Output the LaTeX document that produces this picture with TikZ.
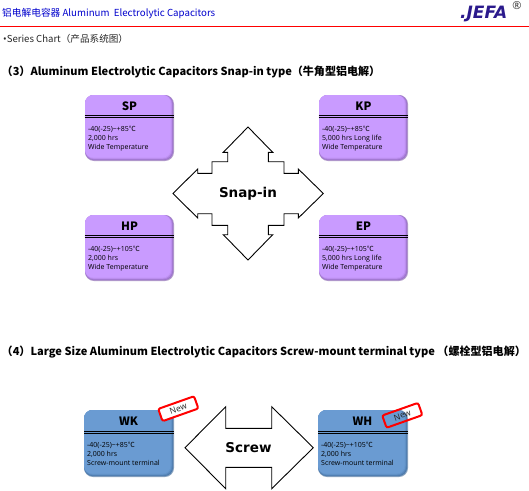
\documentclass[tikz,border=0pt]{standalone}
\usepackage{fontspec}
\usepackage{xcolor}
\usetikzlibrary{positioning}
\setmainfont{Noto Sans CJK SC}
\newfontfamily\latinfont{Open Sans}
\newfontfamily\blackfont{DejaVu Sans}
\newcommand{\degc}{{\rmfamily ℃}}
\definecolor{purplecap}{HTML}{C99BFF}
\definecolor{purpleedge}{HTML}{7F5AA8}
\definecolor{bluecap}{HTML}{6A9BD2}
\definecolor{blueedge}{HTML}{3A6594}
\definecolor{logoblue}{HTML}{2B1A8C}
\begin{document}
\begin{tikzpicture}[x=1pt,y=-1pt,
    captext/.style={font=\fontsize{7}{9}\selectfont\latinfont, align=left, anchor=north west, inner sep=0pt, text=black},
    capname/.style={font=\fontsize{11.5}{12}\selectfont\bfseries, inner sep=0pt},
    bigarrow/.style={draw=black, fill=white, line width=0.9pt, line join=miter},
    bigword/.style={font=\fontsize{13.5}{15}\selectfont\blackfont\bfseries, inner sep=0pt},
    heading/.style={font=\fontsize{11.05}{13}\selectfont\bfseries, anchor=west, inner sep=0pt},
    newtag/.style={draw=red, line width=2pt, rounded corners=2pt, minimum width=38pt, minimum height=13pt, inner sep=0pt, rotate=19.5, font=\fontsize{8.5}{9}\selectfont\latinfont, text=black!85}
]
\useasboundingbox (0,0) rectangle (529,490);
\node[font=\fontsize{9.7}{11}\selectfont, text=blue!80!black, anchor=west, inner sep=0pt] (title) at (2,13.5) {铝电解电容器 Aluminum\ \ Electrolytic Capacitors};
\coordinate (ruleleft) at (0,26.5);
\coordinate (ruleright) at (529,26.5);
\draw[red, line width=1.1pt] (ruleleft) -- (ruleright);
\node[font=\fontsize{9.6}{11}\selectfont, text=black!85, anchor=west, inner sep=0pt] (chart) at (3,39) {{\latinfont •}Series Chart（产品系统图）};
\node[heading] (head3) at (1.5,71.8) {（3）Aluminum Electrolytic Capacitors Snap-in type（牛角型铝电解）};
\node[heading] (head4) at (1.5,351.8) {（4）Large Size Aluminum Electrolytic Capacitors Screw-mount terminal type （螺栓型铝电解）};
% logo
\node[font=\fontsize{17}{18}\selectfont\blackfont\bfseries\itshape, text=logoblue, anchor=west, inner sep=0pt] (logo) at (460,14) {.JEFA};
\node[font=\fontsize{11}{12}\selectfont\latinfont, text=black!80, inner sep=0pt] (regmark) at (517,5.5) {®};
% snap-in arrow
\draw[bigarrow] (248,127) -- (272.7,152.3) -- (268.3,152.3) -- (268.3,161.7) -- (284,161.7) -- (284,173.3) -- (298.3,173.3) -- (298.3,169)
  -- (323.3,193.5) -- (298.3,218) -- (298.3,213.7) -- (284,213.7) -- (284,225.3) -- (268.3,225.3) -- (268.3,234.7) -- (272.7,234.7)
  -- (248,260) -- (223.3,234.7) -- (227.7,234.7) -- (227.7,225.3) -- (212,225.3) -- (212,213.7) -- (197.7,213.7) -- (197.7,218)
  -- (173,193.5) -- (197.7,169) -- (197.7,173.3) -- (212,173.3) -- (212,161.7) -- (227.7,161.7) -- (227.7,152.3) -- (223.3,152.3) -- cycle;
\node[bigword] (snap) at (248,193.5) {Snap-in};
% screw arrow
\draw[bigarrow] (185,447.7) -- (225.7,406.7) -- (225.7,428.3) -- (271.7,428.3) -- (271.7,406.7) -- (313.3,447.7)
  -- (271.7,488.7) -- (271.7,467.3) -- (225.7,467.3) -- (225.7,488.7) -- cycle;
\node[bigword] (screw) at (248.5,447.7) {Screw};
% capacitor cards
\foreach \nm/\xx/\yy/\lineone/\linetwo in {SP/85/95/-40(-25)\textasciitilde+85\degc/{2,000 hrs},KP/319/95/-40(-25)\textasciitilde+85\degc/{5,000 hrs Long life},HP/85/215/-40(-25)\textasciitilde+105\degc/{2,000 hrs},EP/319/215/-40(-25)\textasciitilde+105\degc/{5,000 hrs Long life}}{
  \fill[purpleedge!60!white, rounded corners=9pt] (\xx,\yy) rectangle ++(89,66);
  \foreach \k in {1,2,3}
    \fill[purplecap!\the\numexpr 25*\k+15\relax!purpleedge, rounded corners=9pt] (\xx,\yy) rectangle ++(89-0.8*\k,66-0.8*\k);
  \fill[purplecap, rounded corners=8pt] (\xx,\yy) rectangle ++(85.5,62.5);
  \node[capname] (\nm) at (\xx+44.5,\yy+11) {\nm};
  \draw[black, line width=0.6pt] (\xx-0.5,\yy+20.2) -- ++(89.5,0);
  \draw[black, line width=0.6pt] (\xx-0.5,\yy+21.8) -- ++(89.5,0);
  \node[captext] (\nm text) at (\xx+3,\yy+30.5) {\lineone\\\linetwo\\Wide Temperature};
}
\foreach \nm/\xx/\lineone in {WK/84/-40(-25)\textasciitilde+85\degc,WH/318/-40(-25)\textasciitilde+105\degc}{
  \fill[blueedge!60!white, rounded corners=9pt] (\xx,410) rectangle ++(90,67);
  \foreach \k in {1,2,3}
    \fill[bluecap!\the\numexpr 25*\k+15\relax!blueedge, rounded corners=9pt] (\xx,410) rectangle ++(90-0.8*\k,67-0.8*\k);
  \fill[bluecap, rounded corners=8pt] (\xx,410) rectangle ++(86.5,63.5);
  \node[capname] (\nm) at (\xx+44.5,421.5) {\nm};
  \draw[black, line width=0.6pt] (\xx,431.2) -- ++(90,0);
  \draw[black, line width=0.6pt] (\xx,432.8) -- ++(90,0);
  \node[captext] (\nm text) at (\xx+3,441.5) {\lineone\\2,000 hrs\\Screw-mount terminal};
}
% new tags
\node[newtag, fill=white] (tagwk) at (178.3,408.7) {New};
\node[newtag] (tagwh) at (402.3,415.3) {New};
\end{tikzpicture}
\end{document}
